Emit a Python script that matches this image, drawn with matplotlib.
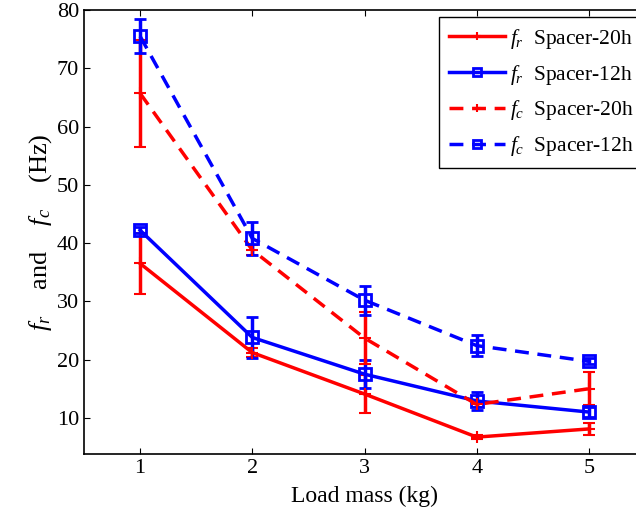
import matplotlib as mpl
import numpy as np
mpl.use('Agg')
import matplotlib.pyplot as plt

mpl.rcParams['font.family'] = 'Liberation Serif'
mpl.rcParams['mathtext.fontset'] = 'custom'
mpl.rcParams['mathtext.it'] = 'Liberation Serif:italic'
mpl.rcParams['mathtext.rm'] = 'Liberation Serif'

load_mass = [1, 2, 3, 4, 5]

fr_20h = [36.5, 21.2, 14.1, 6.7, 8.1]
fr_20h_err = [5.2, 0.8, 3.2, 0.3, 1.0]
fr_12h = [42.2, 23.8, 17.5, 12.9, 11.0]
fr_12h_err = [0.5, 3.5, 2.4, 1.5, 0.8]
fc_20h = [65.7, 38.8, 23.7, 12.3, 15.0]
fc_20h_err = [9.2, 0.8, 4.5, 0.5, 2.8]
fc_12h = [75.5, 40.8, 30.2, 22.4, 19.7]
fc_12h_err = [2.9, 2.8, 2.5, 1.8, 0.5]

fig = plt.figure(figsize=(6.36, 5.16), dpi=100)
ax = fig.add_axes([84 / 636, 1 - 454 / 516, 561 / 636, 444 / 516])

common = dict(linewidth=2.5, elinewidth=2.5, capsize=4, capthick=2.5)
c1 = ax.errorbar(load_mass, fr_20h, yerr=fr_20h_err, color='red', marker='+',
                 markersize=9, markeredgewidth=1.5, **common)
c2 = ax.errorbar(load_mass, fr_12h, yerr=fr_12h_err, color='blue', marker='s',
                 markersize=9, markeredgewidth=2, markerfacecolor='none', **common)
c3 = ax.errorbar(load_mass, fc_20h, yerr=fc_20h_err, color='red', marker='+',
                 markersize=9, markeredgewidth=1.5, linestyle='--', dashes=(4, 2.5),
                 **common)
c4 = ax.errorbar(load_mass, fc_12h, yerr=fc_12h_err, color='blue', marker='s',
                 markersize=9, markeredgewidth=2, markerfacecolor='none',
                 linestyle='--', dashes=(4, 2.5), **common)

ax.set_xlim(0.5, 5.5)
ax.set_ylim(3.8, 80)
ax.set_xticks(load_mass)
ax.set_yticks(np.arange(10, 81, 10))
ax.tick_params(direction='in', length=4, labelsize=16, width=0.8, top=True, right=True)
for s in ax.spines.values():
    s.set_linewidth(1.2)

ax.set_xlabel('Load mass (kg)', fontsize=17, labelpad=6)
ax.set_ylabel(r'$f_r$    and    $f_c$    (Hz)', fontsize=19, labelpad=2)

labels = [r'$f_r$  Spacer-20h', r'$f_r$  Spacer-12h',
          r'$f_c$  Spacer-20h', r'$f_c$  Spacer-12h']
handles = [c.lines[0] for c in (c1, c2, c3, c4)]
leg = ax.legend(handles, labels, loc='upper left',
                bbox_to_anchor=(439 / 636, 1 - 17 / 516),
                bbox_transform=fig.transFigure, fontsize=15.5, frameon=True,
                fancybox=False, edgecolor='black', framealpha=1,
                handlelength=2.6, borderaxespad=0, labelspacing=0.55,
                handletextpad=0.25, borderpad=0.45, markerscale=0.65)
leg.get_frame().set_linewidth(1.0)

fig.savefig('out.png', dpi=100)
